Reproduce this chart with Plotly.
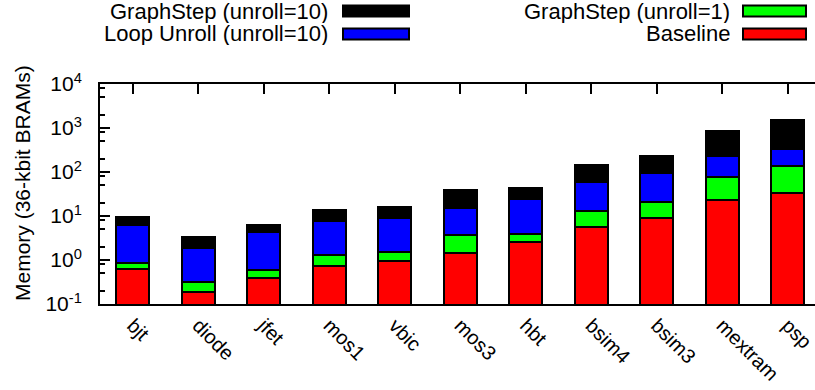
import plotly.graph_objects as go

categories = ["bjt", "diode", "jfet", "mos1", "vbic", "mos3", "hbt",
              "bsim4", "bsim3", "mextram", "psp"]
graphstep10 = [9.3, 3.3, 6.2, 13.7, 16.3, 40, 43, 144, 231, 840, 1520]
loopunroll10 = [6.2, 1.9, 4.4, 7.7, 9.0, 15.4, 24.8, 58, 93, 235, 333]
graphstep1 = [0.87, 0.31, 0.58, 1.3, 1.52, 3.7, 3.9, 13.2, 20.8, 76, 139]
baseline = [0.61, 0.19, 0.40, 0.74, 0.95, 1.47, 2.52, 5.7, 9.0, 23, 34]

series_names = ["GraphStep (unroll=10)", "Loop Unroll (unroll=10)",
                "GraphStep (unroll=1)", "Baseline"]
series_values = [graphstep10, loopunroll10, graphstep1, baseline]
series_colors = ["#000000", "#0000ff", "#00ff00", "#ff0000"]

y_major = [0.1, 1, 10, 100, 1000, 10000]
y_minor = [m * 10 ** e for e in range(-1, 4) for m in (2, 5, 8)]

W, H = 815, 390
L, R, T, B = 100, 0, 84, 86
pw, ph = W - L - R, H - T - B
FONT = "Liberation Sans, Arial, Helvetica, sans-serif"

def px_x(p):
    return (p - L) / pw

def px_y(p):
    return (H - B - p) / ph

fig = go.Figure()
for name, vals, col in zip(series_names, series_values, series_colors):
    fig.add_trace(go.Bar(
        x=list(range(len(categories))), y=vals, name=name, width=0.5,
        marker=dict(color=col, line=dict(color="#000000", width=2)),
        showlegend=False,
    ))

# manual legend (gnuplot style: text right-aligned, swatch to the right)
legend_slots = [  # (text right edge, swatch x0, swatch x1, row center y)
    (329, 343, 409, 11),
    (329, 343, 409, 34),
    (731, 743, 806, 11),
    (731, 743, 806, 34),
]
for (tx, sx0, sx1, cy), name, col in zip(legend_slots, series_names, series_colors):
    fig.add_shape(type="rect", xref="paper", yref="paper",
                  x0=px_x(sx0), x1=px_x(sx1), y0=px_y(cy + 5.5), y1=px_y(cy - 5.5),
                  fillcolor=col, line=dict(color="#000000", width=2))
    fig.add_annotation(xref="paper", yref="paper", x=px_x(tx), y=px_y(cy),
                       text=name, showarrow=False, xanchor="right", yanchor="middle",
                       height=23, valign="middle", borderpad=0,
                       font=dict(family=FONT, size=22, color="#000000"))

fig.add_annotation(xref="paper", yref="paper", x=px_x(22), y=px_y(183),
                   text="Memory (36-kbit BRAMs)", textangle=-90, showarrow=False,
                   xanchor="center", yanchor="middle",
                   font=dict(family=FONT, size=21, color="#000000"))

fig.update_layout(
    width=W, height=H,
    margin=dict(l=L, r=R, t=T, b=B, pad=0, autoexpand=False),
    paper_bgcolor="white", plot_bgcolor="white",
    barmode="overlay", bargap=0,
    font=dict(family=FONT, size=21, color="#000000"),
    xaxis=dict(
        range=[-0.5, -0.5 + pw / 65.5], automargin=False,
        tickmode="array", tickvals=list(range(len(categories))), ticktext=categories,
        tickangle=45, tickfont=dict(size=20), ticklabeloverflow="allow",
        showline=True, linecolor="#000000", linewidth=2, mirror="ticks",
        ticks="inside", ticklen=10, tickwidth=1.5, tickcolor="#000000",
        showgrid=False, zeroline=False, layer="below traces",
    ),
    yaxis=dict(
        type="log", range=[-1, 4], automargin=False,
        tickmode="array", tickvals=y_major, ticktext=[
            "10<sup>-1</sup>", "10<sup>0</sup>", "10<sup>1</sup>",
            "10<sup>2</sup>", "10<sup>3</sup>", "10<sup>4</sup>"],
        tickfont=dict(size=21),
        showline=True, linecolor="#000000", linewidth=2,
        ticks="inside", ticklen=10, tickwidth=1.5, tickcolor="#000000",
        minor=dict(tickmode="array", tickvals=y_minor, ticks="inside",
                   ticklen=5, tickwidth=1.5, tickcolor="#000000", showgrid=False),
        showgrid=False, zeroline=False, ticklabelstandoff=12,
    ),
    yaxis2=dict(
        type="log", range=[-1, 4], overlaying="y", side="right", anchor="x",
        automargin=False,
        tickmode="array", tickvals=y_major, showticklabels=False,
        ticks="inside", ticklen=5, tickwidth=1.5, tickcolor="#000000",
        showline=False, showgrid=False, zeroline=False,
    ),
)

fig.write_html("out.html",
               config={"displayModeBar": False},
               post_script="document.body.style.margin='0';"
                           "document.body.style.overflow='hidden';")
